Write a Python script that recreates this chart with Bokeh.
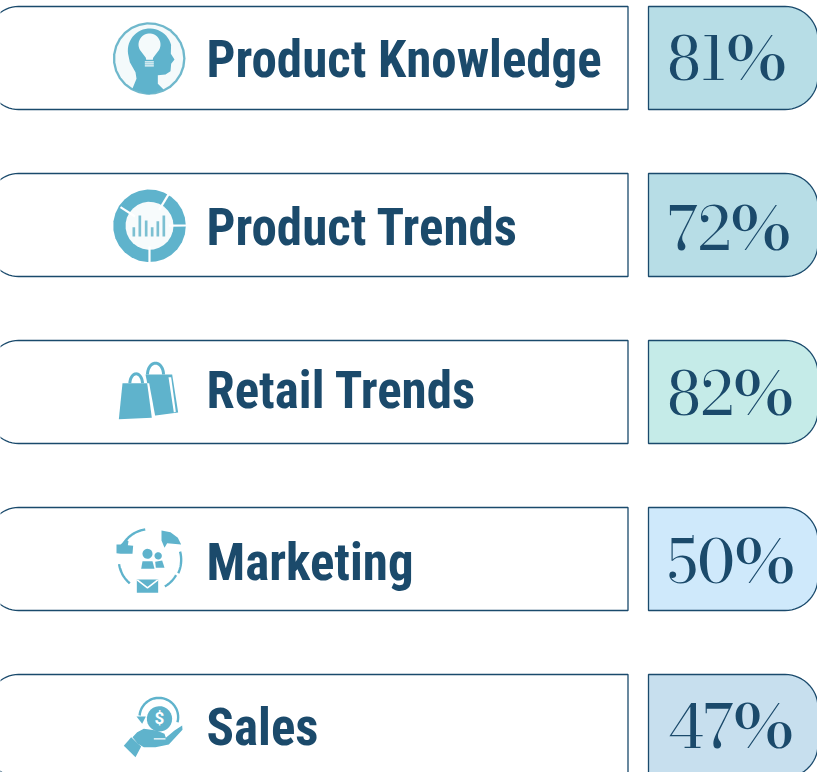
import numpy as np
from bokeh.core.properties import value
from bokeh.embed import file_html
from bokeh.models import Range1d
from bokeh.plotting import figure
from bokeh.resources import INLINE

categories = ["Product Knowledge", "Product Trends", "Retail Trends", "Marketing", "Sales"]
percents = [81, 72, 82, 50, 47]
tile_colors = ["#b7dde6", "#b7dde6", "#c5ebe8", "#cfe9fb", "#c7dfee"]

INK = "#1b4a6b"
EDGE = "#1a4a6c"
ICON = "#5fb3cc"
W, H = 817, 772
TOPS = [6.5 + 167 * i for i in range(5)]
BOX_H = 103
LABEL_BASE = [78, 246, 409, 581, 746]
PCT_BASE = [82, 252, 417, 585, 750]
LABEL_SIZE = 51
PCT_SIZE = 60
LABEL_SHIFT = 19
PCT_SHIFT = 25

p = figure(width=W, height=H, output_backend="svg", toolbar_location=None,
           x_range=Range1d(0, W), y_range=Range1d(H, 0), min_border=0,
           outline_line_color=None, background_fill_color="white")
p.xaxis.visible = False
p.yaxis.visible = False
p.grid.visible = False


def arc(cx, cy, r, a0, a1, n=24, ry=None):
    t = np.radians(np.linspace(a0, a1, n))
    return cx + r * np.cos(t), cy + (ry or r) * np.sin(t)


def round_box(x0, x1, y0, y1, left=0, right=0):
    xs, ys = [], []
    for (cx, cy, r, a0, a1) in [(x0 + left, y0 + left, left, 180, 270),
                                (x1 - right, y0 + right, right, 270, 360),
                                (x1 - right, y1 - right, right, 0, 90),
                                (x0 + left, y1 - left, left, 90, 180)]:
        ax, ay = arc(cx, cy, r, a0, a1, 16)
        xs += list(ax)
        ys += list(ay)
    return xs, ys


for i, top in enumerate(TOPS):
    xs, ys = round_box(-12, 627.5, top - 0.5, top + BOX_H - 0.5, left=30)
    p.patch(xs, ys, fill_color="white", line_color=EDGE, line_width=1.3)
    xs, ys = round_box(648, 817.5, top - 0.5, top + BOX_H - 0.5, right=33)
    p.patch(xs, ys, fill_color=tile_colors[i], line_color=EDGE, line_width=1.3)


# icon helpers: points are given in a 3x grid local to each icon
class Ic:
    def __init__(self, ox, oy):
        self.ox, self.oy = ox, oy

    def poly(self, pts, color=ICON):
        a = np.array(pts, float)
        p.patch(self.ox + a[:, 0] / 3, self.oy + a[:, 1] / 3, fill_color=color, line_color=None)

    def line(self, pts, width=2.0, color=ICON):
        a = np.array(pts, float)
        p.line(self.ox + a[:, 0] / 3, self.oy + a[:, 1] / 3, line_color=color, line_width=width)

    def arc_pts(self, cx, cy, r, a0, a1, ry=None):
        x, y = arc(cx, cy, r, a0, a1, 28, ry)
        return list(zip(x, y))

    def disc(self, cx, cy, r, color=ICON):
        self.poly(self.arc_pts(cx, cy, r, 0, 360), color)


# 1 head with bulb
a = Ic(0, 0)
a.disc(446, 174, 109, "#6fb8cc")
a.disc(446, 174, 102, "#f4fafb")
a.poly(a.arc_pts(448, 150, 66, 165, 345) +
       [(511, 160), (522, 177), (512, 190), (510, 212), (495, 222), (472, 224), (472, 250), (490, 268),
        (446, 282), (395, 266), (408, 235), (405, 215), (388, 185)])
a.poly(a.arc_pts(447, 132, 33, 150, 390) + [(458, 172), (457, 178), (437, 178), (436, 172)], "#f4fafb")
for yy in (184, 190, 196):
    a.line([(433, yy), (460, yy)], 1.2, "#f4fafb")

# 2 donut with bars
b = Ic(100, 180)
b.disc(147, 136, 109)
b.disc(147, 136, 72, "#f7fbfc")
for seg in ([(147, 136), (147, 260)], [(147, 136), (60, 80)], [(147, 136), (205, 40)], [(147, 136), (265, 135)]):
    b.line([(seg[0][0] + (seg[1][0] - seg[0][0]) * 0.5, seg[0][1] + (seg[1][1] - seg[0][1]) * 0.5), seg[1]], 2.2, "white")
for bx, bt in zip((100, 118, 137, 155, 172, 190), (140, 105, 120, 140, 122, 105)):
    b.poly([(bx - 4, 168), (bx + 4, 168), (bx + 4, bt), (bx - 4, bt)], "#7cc0d2")

# 3 bags
c = Ic(100, 350)
c.line(c.arc_pts(165, 72, 24, 180, 360, 34), 3)
c.poly([(135, 72), (215, 72), (233, 186), (160, 196)])
c.poly([(204, 80), (212, 80), (226, 184), (220, 186)], "white")
c.line(c.arc_pts(107, 100, 19, 180, 360, 30), 3)
c.poly([(66, 98), (146, 98), (165, 202), (55, 206)], "white")
c.poly([(66, 98), (140, 98), (154, 202), (55, 206)])

# 4 marketing cycle
d = Ic(100, 520)
d.line(d.arc_pts(147, 118, 92, 205, 262), 2.4)
d.line(d.arc_pts(147, 118, 92, 130, 172), 2.4)
d.line(d.arc_pts(147, 118, 92, 30, 60), 2.4)
d.line(d.arc_pts(147, 118, 95, -15, 25), 2.4)
d.poly([(183, 30), (210, 35), (232, 52), (242, 72), (200, 68), (192, 82), (183, 60)])
d.poly([(48, 72), (60, 72), (72, 62), (78, 58), (84, 62), (82, 74), (98, 76), (96, 100), (60, 100), (48, 98)])
d.disc(141, 100, 15)
d.disc(173, 106, 11)
d.poly([(122, 145), (126, 122), (156, 122), (162, 145)])
d.poly([(164, 124), (185, 120), (192, 142), (166, 142)])
d.poly([(109, 177), (173, 177), (173, 217), (109, 217)])
d.line([(110, 178), (141, 202), (172, 178)], 1.6, "white")

# 5 sales hand
e = Ic(100, 680)
e.disc(177, 115, 38)
e.line(e.arc_pts(175, 110, 58, 185, 375), 2.4)
e.poly([(108, 108), (136, 108), (125, 130)])
e.poly([(110, 155), (130, 145), (168, 150), (192, 160), (196, 172), (222, 150), (245, 135), (246, 148),
        (205, 192), (165, 200), (130, 200), (112, 190), (96, 170)])
e.poly([(92, 170), (122, 198), (105, 230), (70, 196)])
e.line([(160, 175), (195, 175)], 1.2, "white")
p.text([100 + 177 / 3], [680 + 112 / 3], text=["$"], text_color="white", text_font=value("Roboto"),
       text_font_size="17px", text_font_style="bold", text_align="center", text_baseline="alphabetic")

# labels and values
p.text([206] * 5, [y - LABEL_SHIFT for y in LABEL_BASE], text=categories, text_color=INK,
       text_font=value("Roboto Condensed"), text_font_size=f"{LABEL_SIZE}px", text_font_style="bold",
       text_align="left", text_baseline="alphabetic")
p.text([667] * 5, [y - PCT_SHIFT for y in PCT_BASE], text=[f"{v}%" for v in percents], text_color=INK,
       text_font=value("Bodoni Moda"), text_font_size=f"{PCT_SIZE}px", text_align="left",
       text_baseline="alphabetic")

open("out.html", "w").write(file_html(p, INLINE))
